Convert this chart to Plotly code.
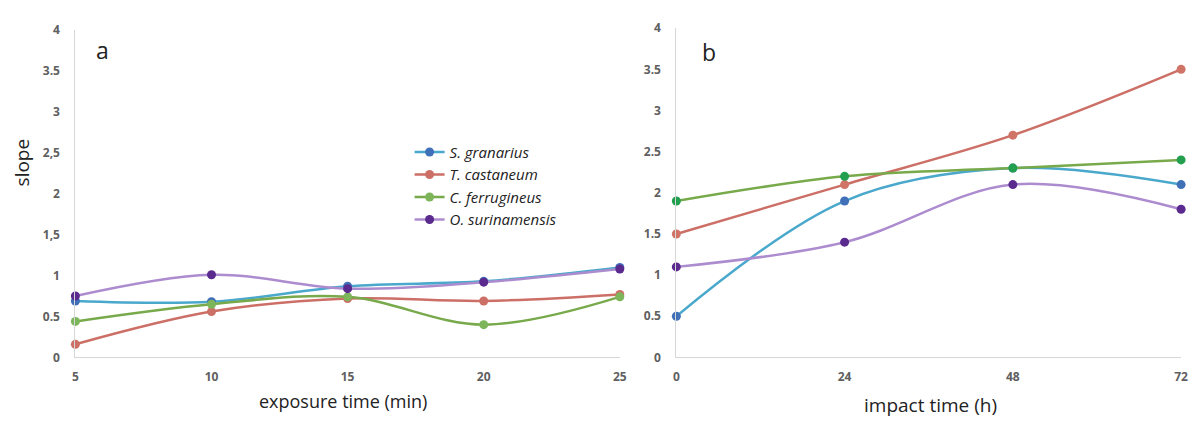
import plotly.graph_objects as go

# ---- data ----
species = ["S. granarius", "T. castaneum", "C. ferrugineus", "O. surinamensis"]
exposure_min = [5, 10, 15, 20, 25]
impact_h = [0, 24, 48, 72]

a_s_granarius = [0.69, 0.68, 0.87, 0.93, 1.10]
a_t_castaneum = [0.16, 0.56, 0.72, 0.69, 0.77]
a_c_ferrugineus = [0.44, 0.65, 0.74, 0.40, 0.74]
a_o_surinamensis = [0.75, 1.01, 0.84, 0.92, 1.08]

b_s_granarius = [0.5, 1.9, 2.3, 2.1]
b_t_castaneum = [1.5, 2.1, 2.7, 3.5]
b_c_ferrugineus = [1.9, 2.2, 2.3, 2.4]
b_o_surinamensis = [1.1, 1.4, 2.1, 1.8]

a_yticks = [0, 0.5, 1, 1.5, 2, 2.5, 3, 3.5, 4]
a_yticktext = ["0", "0.5", "1", "1,5", "2", "2,5", "3", "3.5", "4"]
b_yticktext = ["0", "0.5", "1", "1.5", "2", "2.5", "3", "3.5", "4"]

line_colors = ["#4aa8cc", "#cc6f66", "#78aa4c", "#ac8ccf"]
marker_colors_a = ["#3f70b8", "#cc6f66", "#7cb55a", "#5a2a8e"]
marker_colors_b = ["#3f70b8", "#d07468", "#22a04f", "#5a2a8e"]

a_series = [a_s_granarius, a_t_castaneum, a_c_ferrugineus, a_o_surinamensis]
b_series = [b_s_granarius, b_t_castaneum, b_c_ferrugineus, b_o_surinamensis]

fig = go.Figure()
for i, name in enumerate(species):
    fig.add_trace(go.Scatter(
        x=exposure_min, y=a_series[i], name=name, mode="lines+markers",
        line=dict(color=line_colors[i], width=2.5, shape="spline", smoothing=1),
        marker=dict(color=marker_colors_a[i], size=9),
        cliponaxis=False, xaxis="x", yaxis="y", showlegend=True))
for i, name in enumerate(species):
    fig.add_trace(go.Scatter(
        x=impact_h, y=b_series[i], name=name, mode="lines+markers",
        line=dict(color=line_colors[i], width=2.5, shape="spline", smoothing=1),
        marker=dict(color=marker_colors_b[i], size=9),
        cliponaxis=False, xaxis="x2", yaxis="y2", showlegend=False))

tickfont = dict(family="Open Sans", size=12, color="#606060", weight="bold")
axis_common = dict(showgrid=False, zeroline=False, showline=True,
                   linecolor="#d6d6d6", linewidth=1, ticks="", tickfont=tickfont)
xaxis_common = dict(ticklabelstandoff=8, **axis_common)
yaxis_common = dict(ticklabelstandoff=12, **axis_common)

fig.update_layout(
    width=1200, height=423,
    margin=dict(l=0, r=0, t=0, b=0),
    paper_bgcolor="white", plot_bgcolor="white",
    xaxis=dict(domain=[73/1200, 622/1200], range=[5, 25], tickvals=exposure_min,
               anchor="y", **xaxis_common),
    yaxis=dict(domain=[60/423, 401/423], range=[0, 4], tickvals=a_yticks,
               ticktext=a_yticktext, anchor="x", **yaxis_common),
    xaxis2=dict(domain=[679/1200, 1188/1200], range=[0, 72], tickvals=impact_h,
                anchor="y2", **xaxis_common),
    yaxis2=dict(domain=[60/423, 403/423], range=[0, 4], tickvals=a_yticks,
                ticktext=b_yticktext, anchor="x2", **yaxis_common),
    legend=dict(x=410/1200, y=(423-132)/423, xanchor="left", yanchor="top",
                bgcolor="rgba(0,0,0,0)",
                font=dict(family="Open Sans", size=15, color="#222222", style="italic"),
                tracegroupgap=0, itemwidth=30),
    annotations=[
        dict(text="a", x=100/1200, y=(423-43)/423, xref="paper", yref="paper",
             xanchor="center", yanchor="middle", showarrow=False,
             font=dict(family="Open Sans", size=23, color="#222")),
        dict(text="b", x=712/1200, y=(423-45)/423, xref="paper", yref="paper",
             xanchor="center", yanchor="middle", showarrow=False,
             font=dict(family="Open Sans", size=23, color="#222")),
        dict(text="slope", x=19/1200, y=(423-160)/423, xref="paper", yref="paper",
             xanchor="center", yanchor="middle", textangle=-90, showarrow=False,
             font=dict(family="Open Sans", size=19, color="#222")),
        dict(text="exposure time (min)", x=343/1200, y=(423-408)/423, xref="paper",
             yref="paper", xanchor="center", yanchor="middle", showarrow=False,
             font=dict(family="Open Sans", size=18, color="#222")),
        dict(text="impact time (h)", x=935/1200, y=(423-413)/423, xref="paper",
             yref="paper", xanchor="center", yanchor="middle", showarrow=False,
             font=dict(family="Open Sans", size=19, color="#222")),
    ],
)

fig.write_html("out.html")
